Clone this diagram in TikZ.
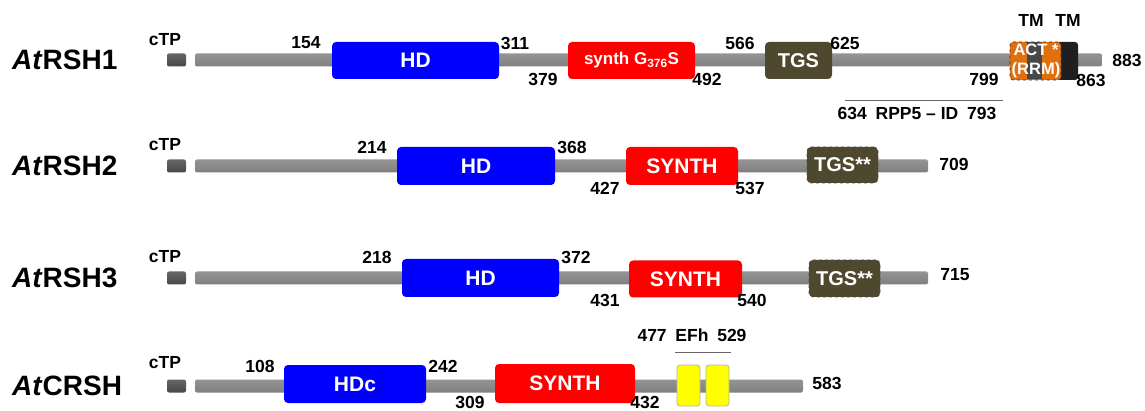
\documentclass[tikz,border=0pt]{standalone}
\usepackage{fontspec}
\setmainfont{Liberation Sans}
\definecolor{hdblue}{RGB}{0,0,255}
\definecolor{synred}{RGB}{255,0,0}
\definecolor{tgsol}{RGB}{77,72,46}
\definecolor{actor}{RGB}{226,110,12}
\definecolor{efy}{RGB}{255,255,0}
\tikzset{
  bar/.style={rectangle, rounded corners=2pt, inner sep=0pt, minimum height=13pt, shading=axis, top color=black!42, middle color=black!16, bottom color=black!50},
  ctpbox/.style={rectangle, rounded corners=2pt, inner sep=0pt, minimum width=19pt, minimum height=13pt, shading=axis, top color=black!60, middle color=black!50, bottom color=black!72},
  dom/.style={rectangle, rounded corners=4pt, inner sep=0pt, text=white, font=\fontsize{21}{21}\selectfont\bfseries},
  hdbox/.style={dom, fill=hdblue},
  synbox/.style={dom, fill=synred},
  tgsbox/.style={dom, fill=tgsol, font=\fontsize{20}{20}\selectfont\bfseries},
  efbox/.style={rectangle, rounded corners=3pt, inner sep=0pt, fill=efy, draw=black!30, line width=0.8pt, minimum width=23pt, minimum height=41pt},
  num/.style={inner sep=0pt, font=\fontsize{17.5}{17.5}\selectfont\bfseries},
  pname/.style={inner sep=0pt, anchor=west, font=\fontsize{28}{28}\selectfont\bfseries},
  rule/.style={draw=black!60, line width=1pt},
}
\begin{document}
\begin{tikzpicture}[x=1pt,y=-1pt]
\useasboundingbox (0,0) rectangle (1145,411);
% ---------------- Row 1
\node[pname] (n1) at (12,60) {\textit{At}RSH1};
\node[ctpbox] (c1) at (176.5,60) {};
\node[num] (c1l) at (165,40) {cTP};
\node[bar, minimum width=907pt] (b1) at (648.5,60) {};
\node[hdbox, minimum width=167pt, minimum height=37pt] (hd1) at (415.5,60.5) {HD};
\node[synbox, minimum width=127pt, minimum height=37pt, font=\fontsize{17}{17}\selectfont\bfseries] (s1) at (631.5,60.5) {synth G\textsubscript{376}S};
\node[tgsbox, minimum width=67pt, minimum height=37pt] (t1) at (798.5,60.5) {TGS};
\node[rectangle, rounded corners=3pt, inner sep=0pt, fill=black!88, minimum width=22pt, minimum height=38pt] (tm2) at (1067,61) {};
\node[rectangle, rounded corners=3pt, inner sep=0pt, fill=actor, draw=black!80, dashed, line width=0.6pt, minimum width=51pt, minimum height=38pt] (act) at (1035.5,61) {};
\node[rectangle, inner sep=0pt, fill=black!72, minimum width=15pt, minimum height=37pt] (tm1) at (1034.5,61) {};
\node[inner sep=0pt, text=white, align=center, font=\fontsize{16.5}{19}\selectfont\bfseries] (actl) at (1036,61) {ACT *\\(RRM)};
\node[num] (l154) at (306,43) {154};
\node[num] (l311) at (515,43) {311};
\node[num] (l379) at (543,79) {379};
\node[num] (l492) at (707,79) {492};
\node[num] (l566) at (740,43) {566};
\node[num] (l625) at (845,43) {625};
\node[num] (l799) at (984,79) {799};
\node[num] (l863) at (1091,80) {863};
\node[num] (l883) at (1127,60) {883};
\node[num] (tma) at (1031,20) {TM};
\node[num] (tmb) at (1068,20) {TM};
\coordinate (rpa) at (845,101);
\coordinate (rpb) at (1003,101);
\draw[rule] (rpa) -- (rpb);
\node[num] (rpp) at (917,113) {634\enspace RPP5 – ID\enspace 793};
% ---------------- Row 2
\node[pname] (n2) at (12,166) {\textit{At}RSH2};
\node[ctpbox] (c2) at (176.5,166) {};
\node[num] (c2l) at (165,145) {cTP};
\node[bar, minimum width=733pt] (b2) at (561.5,166) {};
\node[hdbox, minimum width=158pt, minimum height=38pt] (hd2) at (476,166) {HD};
\node[synbox, minimum width=112pt, minimum height=38pt] (s2) at (682,166) {SYNTH};
\node[tgsbox, minimum width=71pt, minimum height=36pt, draw=black!70, dashed, line width=0.6pt] (t2) at (842.5,165) {TGS**};
\node[num] (l214) at (372,147) {214};
\node[num] (l368) at (572,147) {368};
\node[num] (l427) at (605,188) {427};
\node[num] (l537) at (750,188) {537};
\node[num] (l709) at (954,164) {709};
% ---------------- Row 3
\node[pname] (n3) at (12,278) {\textit{At}RSH3};
\node[ctpbox] (c3) at (176.5,278) {};
\node[num] (c3l) at (165,257) {cTP};
\node[bar, minimum width=733pt] (b3) at (561.5,278) {};
\node[hdbox, minimum width=157pt, minimum height=38pt] (hd3) at (480.5,278) {HD};
\node[synbox, minimum width=113pt, minimum height=37pt] (s3) at (685.5,279) {SYNTH};
\node[tgsbox, minimum width=71pt, minimum height=37pt, draw=black!70, dashed, line width=0.6pt] (t3) at (844.5,278.5) {TGS**};
\node[num] (l218) at (377,257) {218};
\node[num] (l372) at (576,257) {372};
\node[num] (l431) at (605,300) {431};
\node[num] (l540) at (752,300) {540};
\node[num] (l715) at (955,275) {715};
% ---------------- Row 4
\node[pname] (n4) at (12,386) {\textit{At}CRSH};
\node[ctpbox] (c4) at (176.5,386) {};
\node[num] (c4l) at (165,363) {cTP};
\node[bar, minimum width=608pt] (b4) at (499,386) {};
\node[hdbox, minimum width=142pt, minimum height=38pt] (hd4) at (355,384) {HDc};
\node[synbox, minimum width=140pt, minimum height=39pt] (s4) at (565,383.5) {SYNTH};
\node[efbox] (e1) at (688.5,385.5) {};
\node[efbox] (e2) at (717.5,385.5) {};
\coordinate (efa) at (675,352);
\coordinate (efb) at (731,352);
\draw[rule] (efa) -- (efb);
\node[num] (efl) at (692,335) {477\enspace EFh\enspace 529};
\node[num] (l108) at (260,366) {108};
\node[num] (l242) at (443,366) {242};
\node[num] (l309) at (470,402.5) {309};
\node[num] (l432) at (645,402.5) {432};
\node[num] (l583) at (827,383) {583};
\end{tikzpicture}
\end{document}
